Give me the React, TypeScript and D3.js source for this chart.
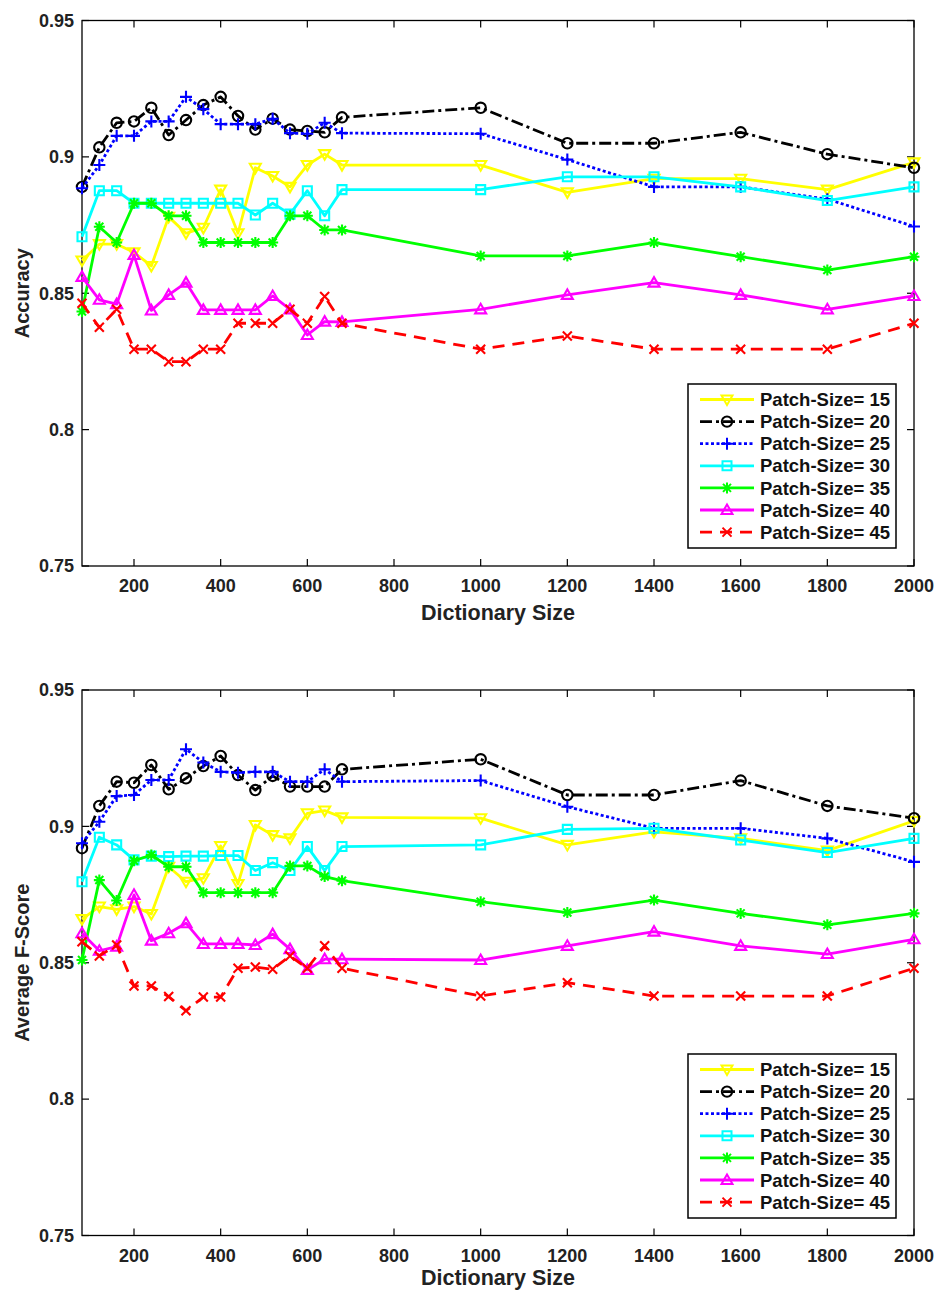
import React, { useEffect, useRef } from "react";
import * as d3 from "d3";

// dictionary sizes on the x axis
const dictSizes = [80, 120, 160, 200, 240, 280, 320, 360, 400, 440, 480, 520, 560, 600, 640, 680, 1000, 1200, 1400, 1600, 1800, 2000];
const xTicks = [200, 400, 600, 800, 1000, 1200, 1400, 1600, 1800, 2000];
const yTicks = [0.75, 0.8, 0.85, 0.9, 0.95];
const patchSizes = [15, 20, 25, 30, 35, 40, 45];

// accuracy per patch size
const acc15 = [0.862, 0.868, 0.868, 0.865, 0.86, 0.878, 0.872, 0.874, 0.888, 0.872, 0.896, 0.893, 0.889, 0.897, 0.901, 0.897, 0.897, 0.887, 0.892, 0.892, 0.888, 0.898];
const acc20 = [0.889, 0.9035, 0.9125, 0.913, 0.918, 0.908, 0.9135, 0.919, 0.922, 0.915, 0.91, 0.914, 0.91, 0.9095, 0.909, 0.9145, 0.918, 0.905, 0.905, 0.909, 0.901, 0.896];
const acc25 = [0.8885, 0.897, 0.9077, 0.9077, 0.913, 0.913, 0.922, 0.9175, 0.912, 0.912, 0.912, 0.914, 0.9087, 0.9085, 0.9125, 0.9087, 0.9085, 0.899, 0.889, 0.889, 0.8845, 0.8745];
const acc30 = [0.8707, 0.8876, 0.8876, 0.883, 0.883, 0.883, 0.883, 0.883, 0.883, 0.883, 0.8787, 0.883, 0.879, 0.8876, 0.8784, 0.888, 0.888, 0.8927, 0.8927, 0.889, 0.884, 0.889];
const acc35 = [0.8433, 0.8744, 0.8686, 0.883, 0.883, 0.8784, 0.8784, 0.8686, 0.8686, 0.8686, 0.8686, 0.8686, 0.8784, 0.8784, 0.8732, 0.8732, 0.8637, 0.8637, 0.8686, 0.8634, 0.8585, 0.8634];
const acc40 = [0.856, 0.8476, 0.846, 0.864, 0.8437, 0.8494, 0.8539, 0.8439, 0.8439, 0.8439, 0.8439, 0.849, 0.8441, 0.8347, 0.8396, 0.8395, 0.8441, 0.8494, 0.8539, 0.8494, 0.8441, 0.849];
const acc45 = [0.8463, 0.8375, 0.8441, 0.8295, 0.8295, 0.8249, 0.8249, 0.8295, 0.8295, 0.839, 0.839, 0.839, 0.8441, 0.839, 0.8488, 0.839, 0.8295, 0.8343, 0.8295, 0.8295, 0.8295, 0.839];

// average f-score per patch size
const f15 = [0.866, 0.8706, 0.8696, 0.8706, 0.8679, 0.8852, 0.8797, 0.881, 0.8928, 0.8789, 0.9005, 0.8968, 0.8956, 0.9048, 0.9058, 0.9033, 0.903, 0.8932, 0.898, 0.8956, 0.8911, 0.902];
const f20 = [0.892, 0.9075, 0.9164, 0.916, 0.9225, 0.9136, 0.9176, 0.9221, 0.9258, 0.9188, 0.9133, 0.9185, 0.9146, 0.9146, 0.9146, 0.9209, 0.9246, 0.9115, 0.9115, 0.9168, 0.9075, 0.903];
const f25 = [0.8938, 0.9017, 0.9111, 0.9115, 0.917, 0.917, 0.9283, 0.9234, 0.92, 0.9197, 0.92, 0.92, 0.9164, 0.9164, 0.9209, 0.9164, 0.9168, 0.9072, 0.8993, 0.8993, 0.8956, 0.887];
const f30 = [0.8797, 0.896, 0.8932, 0.8877, 0.8891, 0.8889, 0.8891, 0.8891, 0.8893, 0.8893, 0.8838, 0.8867, 0.8838, 0.8926, 0.8838, 0.8926, 0.8932, 0.8989, 0.8993, 0.895, 0.8904, 0.8956];
const f35 = [0.851, 0.8803, 0.8728, 0.8874, 0.8895, 0.8852, 0.8852, 0.8757, 0.8757, 0.8757, 0.8757, 0.8757, 0.8855, 0.8855, 0.8816, 0.8801, 0.8724, 0.8684, 0.873, 0.8681, 0.8639, 0.8681];
const f40 = [0.8608, 0.8544, 0.8559, 0.8749, 0.8581, 0.8608, 0.8645, 0.8569, 0.8569, 0.8569, 0.8565, 0.8605, 0.855, 0.8474, 0.8513, 0.8513, 0.851, 0.8562, 0.8614, 0.8562, 0.8532, 0.8586];
const f45 = [0.8577, 0.8525, 0.8565, 0.8415, 0.8415, 0.8376, 0.8324, 0.8374, 0.8374, 0.848, 0.8484, 0.8476, 0.8525, 0.848, 0.8562, 0.848, 0.8378, 0.8427, 0.8378, 0.8378, 0.8378, 0.848];

const styles = [
  { color: "#ffff00", dash: null, marker: "v" },
  { color: "#000000", dash: "12,4,3,4", marker: "o" },
  { color: "#0000ff", dash: "3,2.5", marker: "+" },
  { color: "#00ffff", dash: null, marker: "s" },
  { color: "#00ff00", dash: null, marker: "*" },
  { color: "#ff00ff", dash: null, marker: "^" },
  { color: "#ff0000", dash: "12,8", marker: "x" },
];

const FONT = "'Liberation Sans', Arial, sans-serif";

function markerPath(type) {
  switch (type) {
    case "v": return "M-5.5,-4L5.5,-4L0,5.5Z";
    case "^": return "M-5.5,4L5.5,4L0,-5.5Z";
    case "o": return d3.symbol(d3.symbolCircle, 85)();
    case "s": return "M-4.5,-4.5H4.5V4.5H-4.5Z";
    case "+": return "M-6,0H6M0,-6V6";
    case "x": return "M-4.5,-4.5L4.5,4.5M-4.5,4.5L4.5,-4.5";
    case "*": return "M-5.5,0H5.5M0,-5.5V5.5M-4,-4L4,4M-4,4L4,-4";
    default: return "";
  }
}

function drawPanel(root, series, top, yTitle, legendTop, xTitleGap) {
  const left = 82, right = 914, bottom = top + 545.5;
  const x = d3.scaleLinear().domain([80, 2000]).range([left, right]);
  const y = d3.scaleLinear().domain([0.75, 0.95]).range([bottom, top]);
  const g = root.append("g");

  // box
  g.append("rect").attr("x", left).attr("y", top).attr("width", right - left).attr("height", bottom - top)
    .attr("fill", "white").attr("stroke", "#000").attr("stroke-width", 1.3);

  // ticks inside on all sides
  xTicks.forEach((t) => {
    g.append("line").attr("x1", x(t)).attr("x2", x(t)).attr("y1", bottom).attr("y2", bottom - 7).attr("stroke", "#000").attr("stroke-width", 1.2);
    g.append("line").attr("x1", x(t)).attr("x2", x(t)).attr("y1", top).attr("y2", top + 7).attr("stroke", "#000").attr("stroke-width", 1.2);
    g.append("text").attr("x", x(t)).attr("y", bottom + 26).attr("text-anchor", "middle")
      .attr("font-family", FONT).attr("font-weight", "bold").attr("font-size", 18).attr("fill", "#222").text(t);
  });
  yTicks.forEach((t) => {
    g.append("line").attr("x1", left).attr("x2", left + 7).attr("y1", y(t)).attr("y2", y(t)).attr("stroke", "#000").attr("stroke-width", 1.2);
    g.append("line").attr("x1", right).attr("x2", right - 7).attr("y1", y(t)).attr("y2", y(t)).attr("stroke", "#000").attr("stroke-width", 1.2);
    g.append("text").attr("x", left - 8).attr("y", y(t)).attr("dy", "0.35em").attr("text-anchor", "end")
      .attr("font-family", FONT).attr("font-weight", "bold").attr("font-size", 18).attr("fill", "#222").text(t);
  });

  // axis titles
  g.append("text").attr("x", (left + right) / 2).attr("y", bottom + xTitleGap).attr("text-anchor", "middle")
    .attr("font-family", FONT).attr("font-weight", "bold").attr("font-size", 21.5).attr("fill", "#222").text("Dictionary Size");
  g.append("text").attr("transform", `translate(29,${(top + bottom) / 2}) rotate(-90)`).attr("text-anchor", "middle")
    .attr("font-family", FONT).attr("font-weight", "bold").attr("font-size", 20).attr("fill", "#222").text(yTitle);

  const line = d3.line().x((d) => x(d[0])).y((d) => y(d[1]));

  series.forEach((vals, i) => {
    const st = styles[i];
    const pts = dictSizes.map((d, j) => [d, vals[j]]);
    g.append("path").attr("d", line(pts)).attr("fill", "none").attr("stroke", st.color)
      .attr("stroke-width", 2.8).attr("stroke-dasharray", st.dash).attr("stroke-linejoin", "round");
    g.selectAll(null).data(pts).join("path")
      .attr("transform", (d) => `translate(${x(d[0])},${y(d[1])})`)
      .attr("d", markerPath(st.marker)).attr("fill", "none").attr("stroke", st.color).attr("stroke-width", 2.1);
  });

  // legend
  const lg = g.append("g");
  const lx = 688, lw = 208, lh = 164;
  lg.append("rect").attr("x", lx).attr("y", legendTop).attr("width", lw).attr("height", lh)
    .attr("fill", "white").attr("stroke", "#000").attr("stroke-width", 1.5);
  patchSizes.forEach((p, i) => {
    const st = styles[i];
    const ry = legendTop + 15.5 + i * 22.1;
    lg.append("line").attr("x1", 700).attr("x2", 754).attr("y1", ry).attr("y2", ry).attr("stroke", st.color)
      .attr("stroke-width", 2.8).attr("stroke-dasharray", st.dash);
    lg.append("path").attr("transform", `translate(727,${ry})`).attr("d", markerPath(st.marker))
      .attr("fill", "none").attr("stroke", st.color).attr("stroke-width", 2);
    lg.append("text").attr("x", 760).attr("y", ry).attr("dy", "0.36em")
      .attr("font-family", FONT).attr("font-weight", "bold").attr("font-size", 18.5).attr("fill", "#111")
      .text(`Patch-Size= ${p}`);
  });
}

export default function App() {
  const ref = useRef(null);

  useEffect(() => {
    const svg = d3.select(ref.current);
    svg.selectAll("*").remove();
    drawPanel(svg, [acc15, acc20, acc25, acc30, acc35, acc40, acc45], 20.5, "Accuracy", 384, 54);
    drawPanel(svg, [f15, f20, f25, f30, f35, f40, f45], 690, "Average F-Score", 1054, 49);
  }, []);

  return (
    <svg ref={ref} width={935} height={1292} style={{ position: "absolute", left: 0, top: 0, background: "white" }} />
  );
}
